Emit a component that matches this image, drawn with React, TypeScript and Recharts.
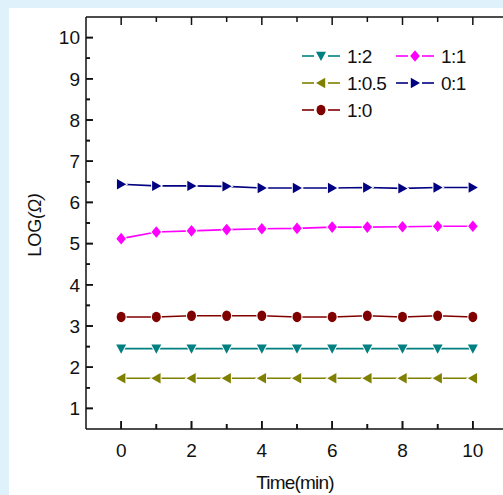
import React from 'react';
import { LineChart, Line, XAxis, YAxis, Legend, Label, CartesianGrid } from 'recharts';

// time (min)
const times = [0, 1, 2, 3, 4, 5, 6, 7, 8, 9, 10];

// LOG(Ω) per ratio
const ratio1to2 = [2.45, 2.45, 2.45, 2.45, 2.45, 2.45, 2.45, 2.45, 2.45, 2.45, 2.45];
const ratio1to05 = [1.73, 1.73, 1.73, 1.73, 1.73, 1.73, 1.73, 1.73, 1.73, 1.73, 1.73];
const ratio1to0 = [3.22, 3.22, 3.25, 3.25, 3.25, 3.22, 3.22, 3.25, 3.22, 3.25, 3.22];
const ratio1to1 = [5.12, 5.28, 5.31, 5.34, 5.36, 5.37, 5.4, 5.4, 5.41, 5.42, 5.42];
const ratio0to1 = [6.44, 6.4, 6.4, 6.39, 6.35, 6.35, 6.35, 6.36, 6.34, 6.36, 6.36];

const xTicks = [0, 1, 2, 3, 4, 5, 6, 7, 8, 9, 10];
const yTicks = [1, 1.5, 2, 2.5, 3, 3.5, 4, 4.5, 5, 5.5, 6, 6.5, 7, 7.5, 8, 8.5, 9, 9.5, 10];

const data = times.map((t, i) => ({
  t,
  r12: ratio1to2[i],
  r105: ratio1to05[i],
  r10: ratio1to0[i],
  r11: ratio1to1[i],
  r01: ratio0to1[i],
}));

// legend order is column-wise like the original
const series = [
  { key: 'r12', name: '1:2', color: '#008080', shape: 'down' },
  { key: 'r105', name: '1:0.5', color: '#808000', shape: 'left' },
  { key: 'r10', name: '1:0', color: '#800000', shape: 'circle' },
  { key: 'r11', name: '1:1', color: '#ff00ff', shape: 'diamond' },
  { key: 'r01', name: '0:1', color: '#000080', shape: 'right' },
];

const AXIS = '#111';
const FONT = '"Liberation Sans", Arial, sans-serif';

function Marker({ shape, x, y, color }: any) {
  if (shape === 'circle') {
    return <ellipse cx={x} cy={y} rx={4.5} ry={5.2} fill={color} stroke="#fff" strokeWidth={2} paintOrder="stroke" />;
  }
  let pts = '';
  if (shape === 'down') pts = `${x - 5},${y - 4.2} ${x + 5},${y - 4.2} ${x},${y + 5}`;
  if (shape === 'left') pts = `${x - 5},${y} ${x + 4.2},${y - 5.2} ${x + 4.2},${y + 5.2}`;
  if (shape === 'right') pts = `${x + 5},${y} ${x - 4.2},${y - 5.2} ${x - 4.2},${y + 5.2}`;
  if (shape === 'diamond') pts = `${x},${y - 5.8} ${x + 4.8},${y} ${x},${y + 5.8} ${x - 4.8},${y}`;
  return <polygon points={pts} fill={color} stroke="#fff" strokeWidth={2} paintOrder="stroke" />;
}

const BottomLabel = ({ x, y, payload }: any) => {
  const major = payload.value % 2 === 0;
  const ay = y - 21;
  return (
    <g>
      <line x1={x} x2={x} y1={ay} y2={ay - (major ? 8 : 5)} stroke={AXIS} strokeWidth={1.6} />
      {major && (
        <text x={x} y={y} dy="0.36em" textAnchor="middle" fontFamily={FONT} fontSize={19} fill="#111">
          {payload.value}
        </text>
      )}
    </g>
  );
};

const LeftLabel = ({ x, y, payload }: any) => {
  const major = Number.isInteger(payload.value);
  const ax = x + 6;
  return (
    <g>
      <line x1={ax} x2={ax + (major ? 7 : 4)} y1={y} y2={y} stroke={AXIS} strokeWidth={1.6} />
      {major && (
        <text x={x} y={y} dy="0.36em" textAnchor="end" fontFamily={FONT} fontSize={19} fill="#111">
          {payload.value}
        </text>
      )}
    </g>
  );
};

const TopTick = ({ x, y, payload }: any) => {
  const len = payload.value % 2 === 0 ? 8 : 5;
  return <line x1={x} x2={x} y1={y} y2={y + len} stroke={AXIS} strokeWidth={1.5} />;
};

const RightTick = ({ x, y, payload }: any) => {
  const len = Number.isInteger(payload.value) ? 7 : 4;
  return <line x1={x} x2={x - len} y1={y} y2={y} stroke={AXIS} strokeWidth={1.5} />;
};

// grid lines reduced to short inward ticks on the left edge
const LeftGridTick = (p: any) => {
  const len = p.index % 2 === 0 ? 7 : 4;
  const xl = Math.min(p.x1, p.x2);
  return <line key={p.key} x1={xl} x2={xl + len} y1={p.y1} y2={p.y1} stroke={AXIS} strokeWidth={1.6} />;
};

// grid lines reduced to short inward ticks on the bottom edge
const BottomGridTick = (p: any) => {
  const len = p.index % 2 === 0 ? 8 : 5;
  const yb = Math.max(p.y1, p.y2);
  return <line key={p.key} x1={p.x1} x2={p.x1} y1={yb} y2={yb - len} stroke={AXIS} strokeWidth={1.6} />;
};

const LegendBox = () => (
  <svg width={200} height={90}>
    {series.map((s, i) => {
      const col = Math.floor(i / 3);
      const row = i % 3;
      const x0 = col === 0 ? 12 : 106;
      const y = 16 + row * 27;
      return (
        <g key={s.key}>
          <line x1={x0} x2={x0 + 12} y1={y} y2={y} stroke={s.color} strokeWidth={1.6} />
          <line x1={x0 + 26} x2={x0 + 38} y1={y} y2={y} stroke={s.color} strokeWidth={1.6} />
          <Marker shape={s.shape} x={x0 + 19} y={y} color={s.color} />
          <text x={x0 + 45} y={y} dy="0.36em" fontFamily={FONT} fontSize={19} fill="#111" letterSpacing={-0.6}>
            {s.name}
          </text>
        </g>
      );
    })}
  </svg>
);

export default function App() {
  return (
    <div style={{ position: 'fixed', left: 0, top: 0, width: 503, height: 495, overflow: 'hidden', background: '#dff1fb' }}>
      <div style={{ position: 'absolute', left: 9, top: 8, right: -20, bottom: -20, background: '#fff' }} />
      <div style={{ position: 'absolute', left: 0, top: 0 }}>
        <LineChart width={520} height={495} data={data} margin={{ top: 16, right: 11, left: 0, bottom: 0 }}>
          <CartesianGrid
            xAxisId="bottom"
            yAxisId="left"
            syncWithTicks
            horizontal={LeftGridTick}
            vertical={BottomGridTick}
          />
          <XAxis
            xAxisId="bottom"
            dataKey="t"
            type="number"
            domain={[-1, 11]}
            ticks={xTicks}
            interval={0}
            height={66}
            tickSize={0}
            tickMargin={21}
            tickLine={false}
            tick={<BottomLabel />}
            stroke={AXIS}
            strokeWidth={1.5}
          >
            <Label
              content={({ viewBox }: any) => (
                <text
                  x={viewBox.x + viewBox.width / 2 - 2}
                  y={viewBox.y + 53}
                  dy="0.36em"
                  textAnchor="middle"
                  fontFamily={FONT}
                  fontSize={19}
                  letterSpacing={-0.8}
                  fill="#111"
                >
                  Time(min)
                </text>
              )}
            />
          </XAxis>
          <XAxis
            xAxisId="top"
            orientation="top"
            dataKey="t"
            type="number"
            domain={[-1, 11]}
            ticks={xTicks}
            interval={0}
            height={1}
            tickSize={0}
            tickMargin={0}
            tickLine={false}
            tick={<TopTick />}
            stroke={AXIS}
            strokeWidth={1.5}
          />
          <YAxis
            yAxisId="left"
            type="number"
            domain={[0.5, 10.5]}
            ticks={yTicks}
            interval={0}
            width={86}
            tickSize={0}
            tickMargin={6}
            tickLine={false}
            tick={<LeftLabel />}
            stroke={AXIS}
            strokeWidth={1.5}
          >
            <Label
              content={() => (
                <text
                  x={35}
                  y={225}
                  transform="rotate(-90, 35, 225)"
                  dy="0.36em"
                  textAnchor="middle"
                  fontFamily={FONT}
                  fontSize={18}
                  fill="#111"
                >
                  LOG<tspan fontStyle="italic">(Ω)</tspan>
                </text>
              )}
            />
          </YAxis>
          <YAxis
            yAxisId="right"
            orientation="right"
            type="number"
            domain={[0.5, 10.5]}
            ticks={yTicks}
            interval={0}
            width={1}
            tickSize={0}
            tickMargin={0}
            tickLine={false}
            tick={<RightTick />}
            stroke={AXIS}
            strokeWidth={1.5}
          />
          <Legend
            layout="vertical"
            align="center"
            verticalAlign="middle"
            wrapperStyle={{ left: 290, top: 40, width: 200 }}
            content={() => <LegendBox />}
          />
          {series.map((s) => (
            <Line
              key={s.key}
              xAxisId="bottom"
              yAxisId="left"
              dataKey={s.key}
              name={s.name}
              stroke={s.color}
              strokeWidth={1.6}
              isAnimationActive={false}
              dot={(p: any) => <Marker key={`${s.key}-${p.index}`} shape={s.shape} x={p.cx} y={p.cy} color={s.color} />}
              activeDot={false}
            />
          ))}
        </LineChart>
      </div>
    </div>
  );
}
